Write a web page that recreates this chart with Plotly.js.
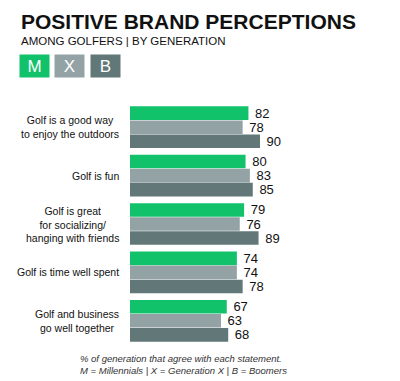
<!DOCTYPE html>
<html>
<head>
<meta charset="utf-8">
<script src="https://cdn.plot.ly/plotly-3.0.1.min.js"></script>
<style>html,body{margin:0;padding:0;background:#fff;}#chart{width:400px;height:381px;}</style>
</head>
<body>
<div id="chart"></div>
<script>
const categories = ["outdoors", "fun", "social", "time", "business"];
const categoryLabels = [
  "Golf is a good way<br>to enjoy the outdoors",
  "Golf is fun",
  "Golf is great<br>for socializing/<br>hanging with friends",
  "Golf is time well spent",
  "Golf and business<br>go well together"
];
const millennials = [82, 80, 79, 74, 67];
const genX = [78, 83, 76, 74, 63];
const boomers = [90, 85, 89, 78, 68];
const seriesNames = ["M", "X", "B"];
const seriesColors = ["#12C26B", "#93A3A5", "#627878"];

const L = 130, R = 126, T = 103, B = 36, W = 400, H = 381;
const pw = W - L - R, ph = H - T - B;
const px = v => (v - L) / pw;
const py = v => (H - B - v) / ph;

const mk = (vals, i) => ({
  type: "bar", orientation: "h", name: seriesNames[i],
  y: categories, x: vals,
  marker: {color: seriesColors[i]},
  text: vals.map(v => "\u00a0" + v),
  textposition: "outside", cliponaxis: false, constraintext: "none",
  textfont: {family: "Liberation Sans, Arial, sans-serif", size: 13, color: "#111"},
  hoverinfo: "none"
});

const data = [mk(millennials, 0), mk(genX, 1), mk(boomers, 2)];

const annotations = [];
annotations.push({xref: "paper", yref: "paper", x: px(19), y: py(21), xanchor: "left", yanchor: "middle",
  text: "<b>POSITIVE BRAND PERCEPTIONS</b>", showarrow: false,
  font: {family: "Liberation Sans, Arial, sans-serif", size: 21, color: "#111"}});
annotations.push({xref: "paper", yref: "paper", x: px(19), y: py(41), xanchor: "left", yanchor: "middle",
  text: "AMONG GOLFERS | BY GENERATION", showarrow: false,
  font: {family: "Liberation Sans, Arial, sans-serif", size: 11.5, color: "#111"}});
const boxX = [34.5, 69, 105];
seriesNames.forEach((n, i) => {
  annotations.push({xref: "paper", yref: "paper", x: px(boxX[i]), y: py(66), xanchor: "center", yanchor: "middle",
    text: n, showarrow: false, width: 29, height: 22, bgcolor: seriesColors[i], borderpad: 0,
    font: {family: "Liberation Sans, Arial, sans-serif", size: 17, color: "#fff"}});
});
categories.forEach((c, i) => {
  annotations.push({xref: "paper", yref: "y", x: px(121), y: c, xanchor: "right", yanchor: "middle",
    text: categoryLabels[i], showarrow: false, align: "center",
    font: {family: "Liberation Sans, Arial, sans-serif", size: 10.5, color: "#111"}});
});
annotations.push({xref: "paper", yref: "paper", x: px(183), y: py(364), xanchor: "center", yanchor: "middle",
  text: "<i>% of generation that agree with each statement.<br>M = Millennials | X = Generation X | B = Boomers</i>",
  showarrow: false, align: "left",
  font: {family: "Liberation Sans, Arial, sans-serif", size: 9.5, color: "#333"}});

const layout = {
  width: W, height: H,
  margin: {l: L, r: R, t: T, b: B, pad: 0},
  paper_bgcolor: "#fff", plot_bgcolor: "#fff",
  barmode: "group", bargap: 0.13, bargroupgap: 0.03,
  showlegend: false,
  xaxis: {range: [0, 99.7], showgrid: false, zeroline: false, showticklabels: false, showline: false, fixedrange: true},
  yaxis: {type: "category", autorange: "reversed", showticklabels: false, showgrid: false, zeroline: false, showline: false, fixedrange: true},
  annotations: annotations
};

Plotly.newPlot("chart", data, layout, {displayModeBar: false, staticPlot: true});
</script>
</body>
</html>
